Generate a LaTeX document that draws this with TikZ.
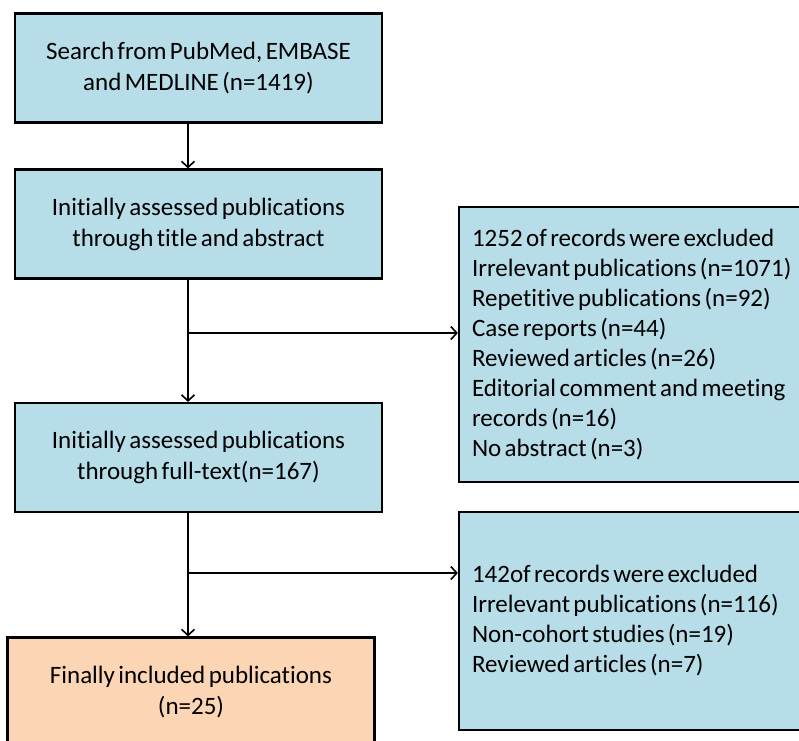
\documentclass[tikz,border=0pt]{standalone}
\usepackage{fontspec}
\setmainfont{Carlito}[Ligatures={NoCommon},WordSpace={0.6}]
\usetikzlibrary{arrows.meta,positioning}
\definecolor{prBlue}{HTML}{B7DDE8}
\definecolor{prPeach}{HTML}{FCD5B5}
\tikzset{
  stage/.style={draw=black,line width=2.2pt,fill=prBlue,align=center,
    font=\fontsize{25}{31}\selectfont,minimum width=367pt,minimum height=109pt,inner sep=0pt},
  final/.style={stage,fill=prPeach},
  excluded/.style={stage,align=flush left,text width=400pt,inner xsep=13pt,minimum width=0pt,
    font=\fontsize{25}{30}\selectfont},
  link/.style={-{Straight Barb[length=6pt,width=13pt]},line width=1.6pt},
}
\begin{document}
\begin{tikzpicture}[x=1pt,y=-1pt]
  \clip (0,0) rectangle (799,740);
  \fill[white] (0,0) rectangle (799,740);
  \node[stage] (search) at (198.5,68) {Search from PubMed, EMBASE\\and MEDLINE (n=1419)};
  \node[stage] (screen) at (198.5,224) {Initially assessed publications\\through title and abstract};
  \node[stage] (fulltext) at (198.5,457.5) {Initially assessed publications\\through full-text(n=167)};
  \node[final] (included) at (191,692) {Finally included publications\\(n=25)};
  \node[excluded,minimum height=275pt] (excl1) at (672,344.5)
    {1252 of records were excluded\\Irrelevant publications (n=1071)\\Repetitive publications (n=92)\\
     Case reports (n=44)\\Reviewed articles (n=26)\\Editorial comment and meeting\\
     records (n=16)\\No abstract (n=3)};
  \node[excluded,minimum height=218pt] (excl2) at (672,621)
    {142of records were excluded\\Irrelevant publications (n=116)\\Non-cohort studies (n=19)\\
     Reviewed articles (n=7)};
  \coordinate (trunk) at (188,0);
  \coordinate (split1) at (188,333);
  \coordinate (split2) at (188,573);
  \draw[link] (search.south -| trunk) -- (screen.north -| trunk);
  \draw[link] (screen.south -| trunk) -- (fulltext.north -| trunk);
  \draw[link] (fulltext.south -| trunk) -- (included.north -| trunk);
  \draw[link] (split1) -- (split1 -| excl1.west);
  \draw[link] (split2) -- (split2 -| excl2.west);
\end{tikzpicture}
\end{document}
